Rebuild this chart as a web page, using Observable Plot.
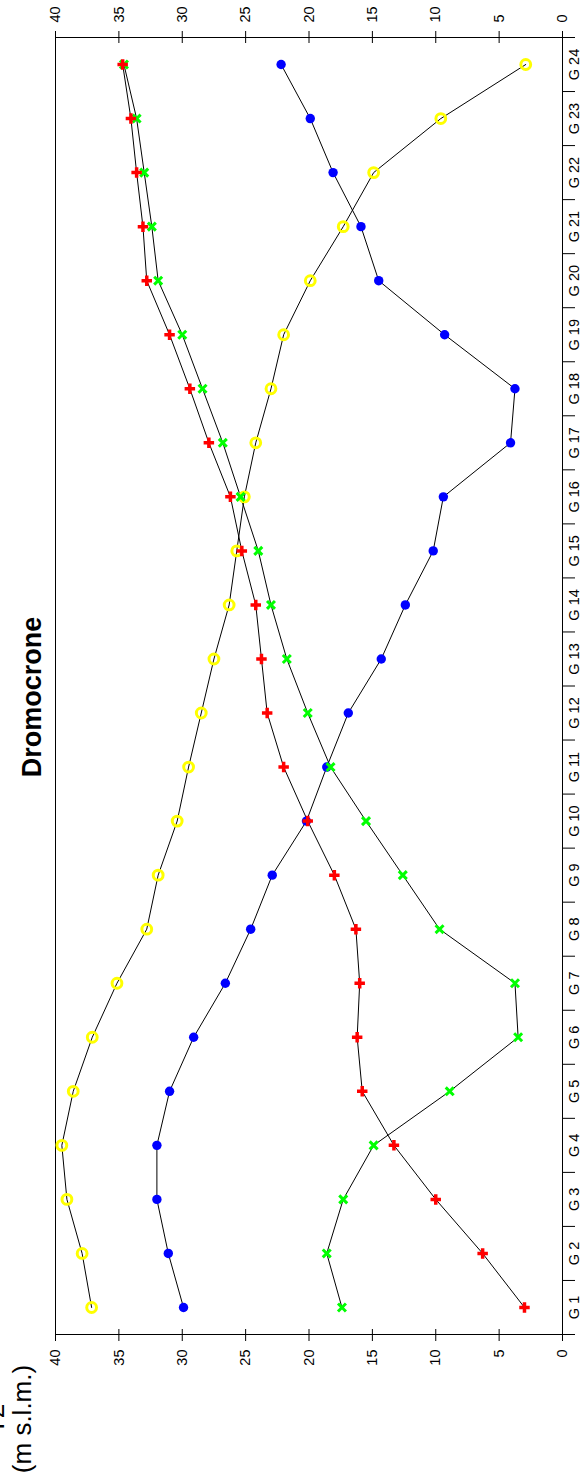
<!DOCTYPE html>
<html>
<head>
<meta charset="utf-8">
<script src="https://cdn.jsdelivr.net/npm/d3@7"></script>
<script src="https://cdn.jsdelivr.net/npm/@observablehq/plot@0.6"></script>
<style>
  html, body { margin: 0; padding: 0; background: #fff; }
  #page { position: relative; width: 583px; height: 1482px; overflow: hidden; background: #fff; }
  #rot { position: absolute; left: 0; top: 0; width: 1482px; height: 583px;
         transform-origin: 0 0; transform: translate(0px, 1482px) rotate(-90deg);
         font-family: "Liberation Sans", Arial, sans-serif; color: #000; }
  #rot svg { position: absolute; left: 0; top: 0; }
  .t { position: absolute; white-space: nowrap; }
  #title { left: 0; width: 1570px; text-align: center; top: 19px; font-size: 27px; line-height: 27px; font-weight: bold; }
  .ylab { left: 0; width: 126px; text-align: center; font-size: 26px; line-height: 26px; }
</style>
</head>
<body>
<div id="page"><div id="rot"></div></div>
<script>
// ---- data ----
const categories = ["G 1","G 2","G 3","G 4","G 5","G 6","G 7","G 8","G 9","G 10","G 11","G 12",
                    "G 13","G 14","G 15","G 16","G 17","G 18","G 19","G 20","G 21","G 22","G 23","G 24"];
const serieGialla = [37.15, 37.9, 39.1, 39.5, 38.6, 37.1, 35.15, 32.8, 31.9, 30.4, 29.5, 28.5,
                     27.5, 26.3, 25.7, 25.1, 24.2, 23.0, 22.0, 19.9, 17.3, 14.9, 9.6, 2.9];
const serieBlu    = [29.9, 31.1, 32.0, 32.0, 31.0, 29.1, 26.6, 24.6, 22.9, 20.2, 18.6, 16.9,
                     14.3, 12.4, 10.2, 9.4, 4.1, 3.75, 9.3, 14.5, 15.9, 18.1, 19.9, 22.2];
const serieVerde  = [17.4, 18.6, 17.3, 14.9, 8.9, 3.5, 3.75, 9.7, 12.6, 15.5, 18.3, 20.1,
                     21.75, 23.0, 24.0, 25.4, 26.8, 28.4, 30.0, 31.9, 32.4, 33.0, 33.6, 34.6];
const serieRossa  = [3.0, 6.3, 10.0, 13.3, 15.8, 16.2, 16.0, 16.3, 18.0, 20.1, 22.0, 23.3,
                     23.75, 24.2, 25.3, 26.2, 27.9, 29.4, 31.0, 32.8, 33.1, 33.6, 34.05, 34.7];
const yTicks = [0, 5, 10, 15, 20, 25, 30, 35, 40];
const titleText = "Dromocrone";
const yLabelLines = ["T2", "(m s.l.m.)"];

// ---- build table ----
function rows(name, values) {
  return values.map((v, i) => ({series: name, x: i + 1, cat: categories[i], value: v}));
}
const gialla = rows("gialla", serieGialla);
const blu = rows("blu", serieBlu);
const verde = rows("verde", serieVerde);
const rossa = rows("rossa", serieRossa);
const all = [...gialla, ...blu, ...verde, ...rossa];

const catTicks = categories.map((c, i) => i + 1);
const boundaryTicks = d3.range(0.5, categories.length + 1, 1);

const chart = Plot.plot({
  width: 1482,
  height: 583,
  marginLeft: 147,
  marginRight: 38,
  marginTop: 55,
  marginBottom: 21,
  style: {fontFamily: '"Liberation Sans", Arial, sans-serif', fontSize: "14px", color: "#000", background: "#fff"},
  x: {type: "linear", domain: [0.5, categories.length + 0.5]},
  y: {domain: [0, 40]},
  marks: [
    Plot.frame({stroke: "#000", strokeWidth: 1}),
    Plot.axisX({ticks: catTicks, tickFormat: i => categories[i - 1], tickSize: 0, tickPadding: 6, label: null, fontSize: 14.5}),
    Plot.axisX({ticks: boundaryTicks, tickFormat: () => "", tickSize: 13, label: null, stroke: "#000"}),
    Plot.axisY({anchor: "left", ticks: yTicks, tickSize: 12, tickPadding: 9, dx: 6, label: null, fontSize: 14.5, stroke: "#000"}),
    Plot.axisY({anchor: "right", ticks: yTicks, tickSize: 12, tickPadding: 9, dx: -6, label: null, fontSize: 14.5, stroke: "#000"}),
    Plot.line(all, {x: "x", y: "value", z: "series", stroke: "#000", strokeWidth: 1}),
    Plot.dot(gialla, {x: "x", y: "value", symbol: "circle", r: 4.9, fill: "none", stroke: "#ffff00", strokeWidth: 3}),
    Plot.dot(blu, {x: "x", y: "value", symbol: "circle", r: 4.7, fill: "#0000ff", stroke: "none"}),
    Plot.dot(verde, {x: "x", y: "value", symbol: "times", r: 3.7, fill: "none", stroke: "#00ff00", strokeWidth: 3}),
    Plot.dot(rossa, {x: "x", y: "value", symbol: "cross", r: 4.4, fill: "#ff0000", stroke: "none"})
  ]
});

const rot = document.getElementById("rot");
rot.appendChild(chart);

const t = document.createElement("div");
t.className = "t"; t.id = "title"; t.textContent = titleText;
rot.appendChild(t);

const l1 = document.createElement("div");
l1.className = "t ylab"; l1.style.top = "-18px"; l1.textContent = yLabelLines[0];
rot.appendChild(l1);
const l2 = document.createElement("div");
l2.className = "t ylab"; l2.style.top = "9px"; l2.textContent = yLabelLines[1];
rot.appendChild(l2);
</script>
</body>
</html>
